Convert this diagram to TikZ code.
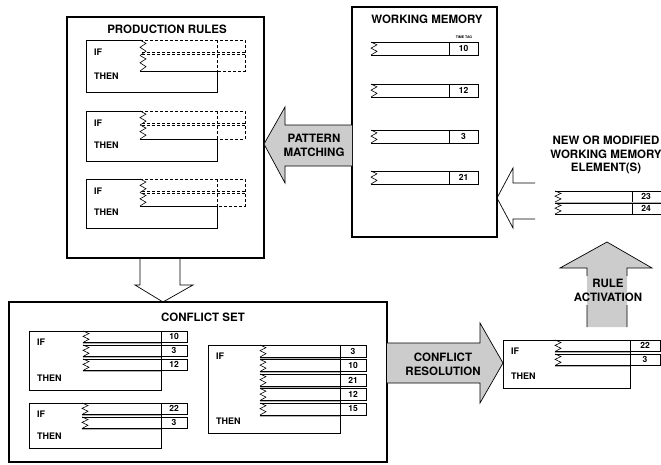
\documentclass[tikz,border=0pt]{standalone}
\usepackage{fontspec}
\setsansfont{TeX Gyre Heros}
\usetikzlibrary{calc}

\tikzset{
  bigbox/.style={draw, line width=1.1pt, inner sep=0pt, outer sep=0pt, anchor=north west},
  rulebox/.style={draw, line width=0.6pt, inner sep=0pt, outer sep=0pt, anchor=north west},
  title/.style={font=\sffamily\bfseries\fontsize{11.5}{13.5}\selectfont, inner sep=0pt},
  kw/.style={anchor=west, font=\sffamily\bfseries\fontsize{9}{10}\selectfont, inner sep=0pt},
  tagnum/.style={font=\sffamily\bfseries\fontsize{8.5}{9}\selectfont, inner sep=0pt},
  arrowtext/.style={font=\sffamily\bfseries\fontsize{11.5}{14}\selectfont, align=center, inner sep=0pt},
  fatgray/.style={fill=gray!40, draw=none},
  fatline/.style={line width=0.7pt, line join=miter},
  bar/.style={line width=0.6pt},
}

% zigzag break line: x, top, bottom
\newcommand{\zigline}[3]{%
  \pgfmathsetmacro\zh{#3-#2}
  \draw[bar] ({#1},{#2}) -- ++(6,{0.22*\zh}) -- ++(-6,{0.25*\zh}) -- ++(6,{0.25*\zh}) -- ({#1},{#3});
}

% rule with time tags: name, left, top, right, tag right, bottom, zig x, pitch, tags
\newcommand{\condrule}[9]{%
  \node[rulebox, minimum width={(#4-#2)*1pt}, minimum height={(#6-#3)*1pt}] (#1) at (#2,#3) {};
  \node[kw] (#1-if) at (#2+8,#3+11) {IF};
  \node[kw] (#1-then) at (#2+8,#6-12) {THEN};
  \foreach \tg [count=\i from 0] in {#9} {
    \pgfmathsetmacro\yt{#3+\i*#8}
    \pgfmathsetmacro\yb{\yt+#8-2.5}
    \zigline{#7}{\yt}{\yb}
    \draw[bar] (#7,\yt) -- (#4,\yt);
    \draw[line width=0.9pt] (#7,\yb) -- (#4,\yb);
    \draw[gray!60, line width=1.2pt] (#7,\yb+1.3) -- (#4,\yb+1.3);
    \draw[bar] (#4,\yt) rectangle (#5,\yb);
    \node[tagnum] (#1-tag\i) at ({(#4+#5)/2},{(\yt+\yb)/2}) {\tg};
  }
}

\begin{document}
\begin{tikzpicture}[x=1pt, y=-1pt]
\useasboundingbox (0,0) rectangle (661,464);

% main boxes
\node[bigbox, minimum width=197pt, minimum height=241pt] (prod) at (67,17) {};
\node[title] (prodtitle) at (167,29) {PRODUCTION RULES};
\node[bigbox, minimum width=145pt, minimum height=230pt] (wm) at (352,7) {};
\node[title] (wmtitle) at (427,19) {WORKING MEMORY};
\node[font=\sffamily\bfseries\fontsize{3.5}{4}\selectfont, inner sep=0pt] (timetag) at (464,37) {TIME TAG};
\node[bigbox, minimum width=378pt, minimum height=160pt] (cset) at (9,302) {};
\node[title] (csettitle) at (203,317) {CONFLICT SET};

% production rules
\foreach \ptop/\pmid/\pbot [count=\i] in {40/71/92, 111/139/161, 179/206/228} {
  \pgfmathsetmacro\phalf{(\ptop+\pmid)/2}
  \draw[bar] (140,\ptop) -- (86,\ptop) -- (86,\pbot) -- (217,\pbot) -- (217,\pmid) -- (140,\pmid);
  \zigline{140}{\ptop}{\phalf}
  \zigline{140}{\phalf}{\pmid}
  \draw[bar, dash pattern=on 3pt off 2pt] (140,\ptop) -- (245,\ptop) -- (245,\pmid) -- (217,\pmid)
    (217,\ptop) -- (217,\pmid) (142,\ptop+12) -- (245,\ptop+12) (142,\ptop+14.5) -- (245,\ptop+14.5);
  \node[kw] (pr\i-if) at (94,\ptop+12) {IF};
  \node[kw] (pr\i-then) at (94,\pbot-16) {THEN};
}

% working memory elements
\foreach \wy/\wn [count=\i] in {42/10, 84/12, 130/3, 171/21} {
  \draw[bar] (371,\wy) -- (478,\wy) -- (478,\wy+13) -- (371,\wy+13);
  \draw[bar] (449,\wy) -- (449,\wy+13);
  \zigline{371}{\wy}{\wy+13}
  \node[tagnum] (wm\i) at (463.5,\wy+6.5) {\wn};
}

% conflict set and selected rule
\condrule{ra}{29}{331}{161}{187}{390}{83}{14}{10,3,12}
\condrule{rb}{29}{403}{161}{187}{448}{82}{14}{22,3}
\condrule{rc}{208}{345}{340}{366}{433}{260}{14.5}{3,10,21,12,15}
\condrule{sel}{503}{340}{630}{660}{388}{555}{14}{22,3}

% new or modified elements
\node[title, align=center] (newtitle) at (606,155) {NEW OR MODIFIED\\WORKING MEMORY\\ELEMENT(S)};
\foreach \ny/\nn [count=\i] in {191/23, 203/24} {
  \draw[bar] (555,\ny) -- (662,\ny) (555,\ny+11) -- (662,\ny+11);
  \draw[bar] (632,\ny) -- (632,\ny+11);
  \zigline{555}{\ny}{\ny+11}
  \node[tagnum] (new\i) at (646,\ny+5.5) {\nn};
}
\draw[gray!60, line width=1.2pt] (555,202.5) -- (662,202.5);

% pattern matching
\fill[fatgray] (prod.east |- 0,144) -- (285,107) -- (285,125) -- (wm.west |- 0,125)
  -- (wm.west |- 0,166) -- (285,166) -- (285,183) -- cycle;
\draw[fatline] (wm.west |- 0,125) -- (285,125) -- (285,107) -- (prod.east |- 0,144)
  -- (285,183) -- (285,166) -- (wm.west |- 0,166);
\node[arrowtext] (match) at (314,145) {PATTERN\\MATCHING};

% into working memory
\draw[fatline] (535,183) -- (513,183) -- (513,168) -- (wm.east |- 0,198) -- (513,228) -- (513,219) -- (535,219);

% into conflict set
\draw[fatline] (prod.south -| 140,0) -- (140,285) -- (135,285) -- (cset.north -| 163,0)
  -- (193,285) -- (180,285) -- (prod.south -| 180,0);

% conflict resolution
\fill[fatgray] (cset.east |- 0,343) -- (480,343) -- (480,323) -- (sel.west |- 0,363)
  -- (480,403) -- (480,383) -- (cset.east |- 0,383) -- cycle;
\draw[fatline] (cset.east |- 0,343) -- (480,343) -- (480,323) -- (sel.west |- 0,363)
  -- (480,403) -- (480,383) -- (cset.east |- 0,383);
\node[arrowtext] (resol) at (443,364) {CONFLICT\\RESOLUTION};

% rule activation
\coordinate (actbase) at (607,327);
\coordinate (acttip) at (607,242);
\fill[fatgray] (actbase) ++(-20,0) -- ++(0,-59) -- ++(-27,0) -- (acttip) -- ++(45,26) -- ++(-25,0) -- ++(0,59) -- cycle;
\draw[fatline] (actbase) ++(-20,0) -- ++(0,-22) ++(0,-29) -- ++(0,-8) -- ++(-27,0) -- (acttip)
  -- ++(45,26) -- ++(-25,0) -- ++(0,8) ++(0,29) -- ++(0,22);
\node[arrowtext] (act) at (608,290) {RULE\\ACTIVATION};
\end{tikzpicture}
\end{document}
